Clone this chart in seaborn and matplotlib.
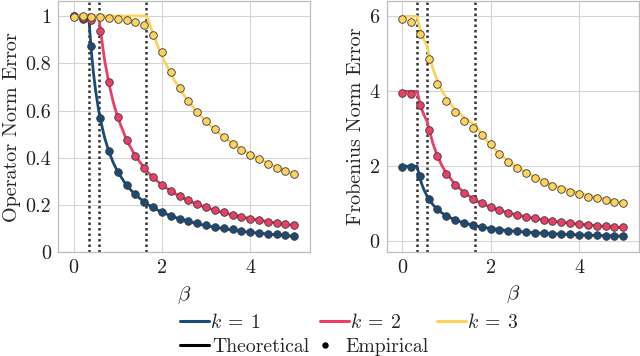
import matplotlib
matplotlib.use("Agg")
import matplotlib.pyplot as plt
import seaborn as sns
import pandas as pd
from matplotlib.lines import Line2D

# empirical points, beta = 0, 0.2, ..., 5
beta_emp = [round(0.2 * i, 1) for i in range(26)]
op_emp_k1 = [0.998, 0.986, 0.872, 0.570, 0.427, 0.340, 0.284, 0.245, 0.212, 0.190,
             0.172, 0.156, 0.142, 0.131, 0.123, 0.115, 0.108, 0.103, 0.097, 0.091,
             0.087, 0.083, 0.079, 0.076, 0.072, 0.069]
op_emp_k2 = [0.998, 0.992, 0.984, 0.935, 0.722, 0.572, 0.476, 0.408, 0.356, 0.319,
             0.286, 0.259, 0.238, 0.220, 0.204, 0.191, 0.179, 0.169, 0.159, 0.150,
             0.142, 0.137, 0.129, 0.124, 0.120, 0.114]
op_emp_k3 = [0.996, 0.998, 0.996, 0.996, 0.990, 0.987, 0.983, 0.973, 0.961, 0.919,
             0.849, 0.763, 0.696, 0.641, 0.594, 0.556, 0.521, 0.489, 0.460, 0.435,
             0.412, 0.393, 0.376, 0.359, 0.345, 0.332]
fro_emp_k1 = [1.99, 1.99, 1.74, 1.13, 0.853, 0.675, 0.56, 0.485, 0.42, 0.37,
              0.335, 0.308, 0.28, 0.26, 0.243, 0.228, 0.214, 0.204, 0.193, 0.182,
              0.173, 0.165, 0.157, 0.151, 0.143, 0.136]
fro_emp_k2 = [3.96, 3.92, 3.63, 2.98, 2.28, 1.80, 1.51, 1.28, 1.12, 1.01,
              0.90, 0.825, 0.76, 0.70, 0.652, 0.61, 0.574, 0.543, 0.512, 0.482,
              0.458, 0.439, 0.415, 0.40, 0.383, 0.366]
fro_emp_k3 = [5.92, 5.86, 5.52, 4.86, 4.20, 3.75, 3.46, 3.22, 3.03, 2.83,
              2.59, 2.34, 2.12, 1.95, 1.81, 1.69, 1.57, 1.47, 1.39, 1.32,
              1.25, 1.19, 1.14, 1.09, 1.05, 1.01]

# theoretical curves
beta_th = [0, 0.2, 0.34, 0.4, 0.45, 0.5, 0.57, 0.6, 0.7, 0.8, 0.9, 1.0, 1.2, 1.4,
           1.66, 1.8, 2.0, 2.25, 2.5, 2.75, 3.0, 3.25, 3.5, 4.0, 4.5, 5.0]
op_th_k1 = [1, 1, 1, 0.85, 0.756, 0.68, 0.596, 0.567, 0.486, 0.425, 0.378, 0.34, 0.283,
            0.243, 0.205, 0.189, 0.17, 0.151, 0.136, 0.124, 0.113, 0.105, 0.097, 0.085,
            0.076, 0.068]
op_th_k2 = [1, 1, 1, 1, 1, 1, 1, 0.95, 0.814, 0.713, 0.633, 0.57, 0.475, 0.407, 0.343,
            0.317, 0.285, 0.253, 0.228, 0.207, 0.19, 0.175, 0.163, 0.1425, 0.127, 0.114]
op_th_k3 = [1, 1, 1, 1, 1, 1, 1, 1, 1, 1, 1, 1, 1, 1, 1, 0.922, 0.83, 0.738, 0.664,
            0.604, 0.553, 0.511, 0.474, 0.415, 0.369, 0.332]
fro_th_k1 = [2, 2, 2, 1.70, 1.511, 1.36, 1.193, 1.133, 0.971, 0.85, 0.756, 0.68, 0.567,
             0.486, 0.41, 0.378, 0.34, 0.302, 0.272, 0.247, 0.227, 0.209, 0.194, 0.17,
             0.151, 0.136]
fro_th_k2 = [4, 4, 4, 3.70, 3.511, 3.36, 3.193, 3.033, 2.60, 2.275, 2.022, 1.82, 1.517,
             1.30, 1.096, 1.012, 0.91, 0.808, 0.728, 0.662, 0.606, 0.56, 0.52, 0.455,
             0.406, 0.364]
fro_th_k3 = [6, 6, 6, 5.70, 5.511, 5.36, 5.193, 5.033, 4.60, 4.275, 4.022, 3.82, 3.517,
             3.30, 3.096, 2.856, 2.57, 2.284, 2.056, 1.87, 1.712, 1.582, 1.468, 1.285,
             1.144, 1.028]

thresholds = [0.345, 0.565, 1.648]
k_labels = [r"$k\:=\:1$", r"$k\:=\:2$", r"$k\:=\:3$"]
colors = ["#1b4b75", "#ea3f67", "#fdd25f"]

sns.set_style("whitegrid")
plt.rcParams["font.family"] = "serif"
plt.rcParams["font.serif"] = ["cmr10"]
plt.rcParams["mathtext.fontset"] = "cm"
plt.rcParams["axes.formatter.use_mathtext"] = True

fig = plt.figure(figsize=(6.4, 3.56), dpi=100)
ax1 = fig.add_axes([0.091, 0.291, 0.393, 0.706])
ax2 = fig.add_axes([0.604, 0.293, 0.394, 0.704])

panels = [
    (ax1, [op_th_k1, op_th_k2, op_th_k3], [op_emp_k1, op_emp_k2, op_emp_k3],
     "Operator Norm Error", (0, 1.063), [0, 0.2, 0.4, 0.6, 0.8, 1],
     ["0", "0.2", "0.4", "0.6", "0.8", "1"]),
    (ax2, [fro_th_k1, fro_th_k2, fro_th_k3], [fro_emp_k1, fro_emp_k2, fro_emp_k3],
     "Frobenius Norm Error", (-0.28, 6.41), [0, 2, 4, 6], ["0", "2", "4", "6"]),
]

for ax, th, emp, ylabel, ylim, yt, ytl in panels:
    for t in thresholds:
        ax.axvline(t, color="#333333", linestyle=(0, (1, 1.2)), linewidth=1.8, zorder=2)
    for i in range(3):
        df_th = pd.DataFrame({"beta": beta_th, "err": th[i]})
        df_emp = pd.DataFrame({"beta": beta_emp, "err": emp[i]})
        sns.lineplot(data=df_th, x="beta", y="err", color=colors[i], linewidth=2,
                     ax=ax, zorder=3 + 2 * i)
        sns.scatterplot(data=df_emp, x="beta", y="err", color=colors[i], s=30,
                        edgecolor="#3a3a3a", linewidth=0.6, ax=ax, zorder=4 + 2 * i)
    ax.set_xlim(-0.35, 5.35)
    ax.set_ylim(*ylim)
    ax.set_xticks([0, 2, 4], labels=["0", "2", "4"])
    ax.set_yticks(yt, labels=ytl)
    ax.set_xlabel(r"$\beta$", fontsize=15, labelpad=5)
    ax.set_ylabel(ylabel, fontsize=14.5, labelpad=3)
    ax.tick_params(labelsize=14.5, length=0, pad=5, colors="#222222")
    ax.grid(True, color="#d4d4d4", linewidth=0.8)
    for sp in ax.spines.values():
        sp.set_color("#bdbdbd")
        sp.set_linewidth(0.9)


def legend_entry(handle, label, x_px, y_px, hlen=1.45, pad=0.08):
    leg = fig.legend([handle], [label], loc="center left",
                     bbox_to_anchor=(x_px / 640, 1 - y_px / 356), frameon=False,
                     fontsize=14.2, borderpad=0, borderaxespad=0,
                     handlelength=hlen, handletextpad=pad)
    return leg


legend_entry(Line2D([], [], color=colors[0], linewidth=2.2), k_labels[0], 180, 322)
legend_entry(Line2D([], [], color=colors[1], linewidth=2.2), k_labels[1], 320, 322)
legend_entry(Line2D([], [], color=colors[2], linewidth=2.2), k_labels[2], 437, 322)
legend_entry(Line2D([], [], color="black", linewidth=2.2), "Theoretical", 180, 347,
             pad=0.2)
legend_entry(Line2D([], [], color="black", marker="o", linestyle="none", markersize=3.6),
             "Empirical", 320, 347, hlen=0.55, pad=0.75)

fig.savefig("out.png", dpi=100)
